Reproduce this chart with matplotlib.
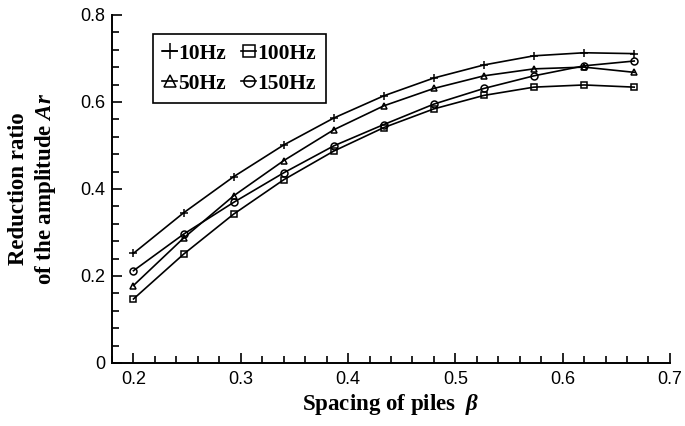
import numpy as np
import matplotlib
matplotlib.use('Agg')
import matplotlib.pyplot as plt
from matplotlib.ticker import MultipleLocator

plt.rcParams['mathtext.fontset'] = 'custom'
plt.rcParams['mathtext.rm'] = 'Liberation Serif:bold'
plt.rcParams['mathtext.it'] = 'Liberation Serif:bold:italic'
plt.rcParams['mathtext.bf'] = 'Liberation Serif:bold'

# pile spacing and amplitude reduction ratio for each frequency
beta = [0.2, 0.2467, 0.2933, 0.34, 0.3867, 0.4333, 0.48, 0.5267, 0.5733, 0.62, 0.6667]
ar_10hz = [0.252, 0.345, 0.428, 0.501, 0.563, 0.614, 0.655, 0.685, 0.706, 0.713, 0.711]
ar_50hz = [0.178, 0.287, 0.384, 0.465, 0.536, 0.591, 0.631, 0.660, 0.676, 0.680, 0.668]
ar_100hz = [0.147, 0.250, 0.342, 0.421, 0.487, 0.541, 0.584, 0.615, 0.634, 0.639, 0.634]
ar_150hz = [0.212, 0.296, 0.369, 0.437, 0.499, 0.548, 0.595, 0.631, 0.660, 0.683, 0.694]

fig = plt.figure(figsize=(6.85, 4.26), dpi=100)
ax = fig.add_axes([0.1635, 0.148, 0.8145, 0.817])

lw = 1.2
ax.plot(beta, ar_10hz, color='k', lw=lw, marker='+', ms=6, mew=1.1, label='10Hz')
ax.plot(beta, ar_50hz, color='k', lw=lw, marker='^', ms=5, mew=1.1, mfc='none', label='50Hz')
ax.plot(beta, ar_100hz, color='k', lw=lw, marker='s', ms=5, mew=1.1, mfc='none', label='100Hz')
ax.plot(beta, ar_150hz, color='k', lw=lw, marker='o', ms=5, mew=1.1, mfc='none', label='150Hz')

ax.set_xlim(0.18, 0.7)
ax.set_ylim(0, 0.8)
ax.xaxis.set_minor_locator(MultipleLocator(0.02))
ax.yaxis.set_minor_locator(MultipleLocator(0.04))
ax.set_xticks([0.2, 0.3, 0.4, 0.5, 0.6, 0.7])
ax.set_xticklabels(['0.2', '0.3', '0.4', '0.5', '0.6', '0.7'])
ax.set_yticks([0, 0.2, 0.4, 0.6, 0.8])
ax.set_yticklabels(['0', '0.2', '0.4', '0.6', '0.8'])

ax.spines['top'].set_visible(False)
ax.spines['right'].set_visible(False)
for s in ['left', 'bottom']:
    ax.spines[s].set_linewidth(1.4)
ax.tick_params(which='both', direction='in', width=1.2, colors='k')
ax.tick_params(which='major', length=7.5)
ax.tick_params(which='minor', length=5)
ax.tick_params(axis='x', pad=6)
ax.tick_params(axis='y', pad=5)
for lab in ax.get_xticklabels() + ax.get_yticklabels():
    lab.set_family('Liberation Sans')
    lab.set_fontsize(13)

ax.set_xlabel(r'Spacing of piles  $\beta$', family='Liberation Serif',
              fontweight='bold', fontsize=16.5, labelpad=3)
ax.set_ylabel('Reduction ratio\nof the amplitude $Ar$', family='Liberation Serif',
              fontweight='bold', fontsize=16.5, labelpad=16, linespacing=1.2)

leg = ax.legend(ncol=2, loc='upper left', bbox_to_anchor=(0.073, 0.945),
                prop={'family': 'Liberation Serif', 'weight': 'bold', 'size': 15.5},
                frameon=True, fancybox=False, edgecolor='k', framealpha=1,
                handlelength=0.7, handletextpad=0.05, columnspacing=0.7,
                labelspacing=0.45, borderpad=0.45, borderaxespad=0)
leg.get_frame().set_linewidth(1.2)
for h, size in zip(leg.legend_handles, [11, 8, 8, 8]):
    h.set_markersize(size)

fig.savefig('out.png', dpi=100)
